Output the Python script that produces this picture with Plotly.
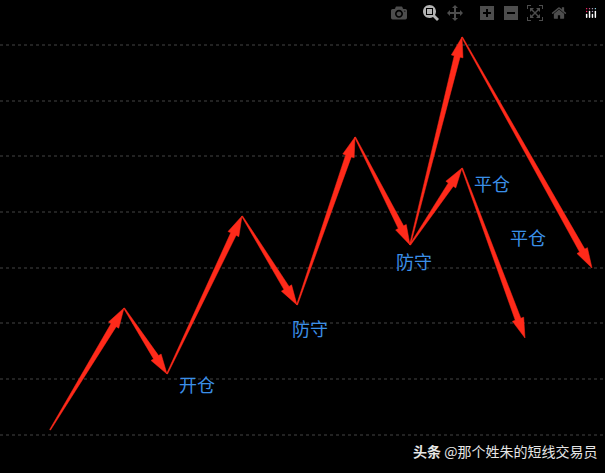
import numpy as np
import plotly.graph_objects as go

# path vertices (chart coordinates = pixel-like units)
main_x = [50, 124, 167, 242, 297, 355, 410]
main_y = [430, 308, 374, 216, 305, 137, 245]
branch1_x = [410, 462, 592]
branch1_y = [245, 37, 268]
branch2_x = [410, 462, 525]
branch2_y = [245, 168, 338]
grid_y = [45, 101, 156, 212, 268, 323, 379, 435]
labels = ["开仓", "防守", "防守", "平仓", "平仓"]
label_x = [197, 310, 414, 492, 528]
label_y = [384, 328, 261, 183, 237]

fig = go.Figure()

def wedge(x0, y0, x1, y1):
    p0 = np.array([x0, y0], float); p1 = np.array([x1, y1], float)
    d = p1 - p0; L = np.linalg.norm(d); u = d / L; n = np.array([-u[1], u[0]])
    h = 20.0; w = 6.0; hw = 12.0
    b = p1 - u * h
    pts = [p0 + n * 0.5, b + n * w / 2, b + n * hw / 2, p1, b - n * hw / 2, b - n * w / 2, p0 - n * 0.5]
    xs = [p[0] for p in pts]; ys = [p[1] for p in pts]
    fig.add_trace(go.Scatter(x=xs, y=ys, fill="toself", fillcolor="#ff2a1a",
                             line=dict(color="#ff2a1a", width=0.5), mode="lines",
                             hoverinfo="skip", showlegend=False))

for xs, ys in [(main_x, main_y), (branch1_x, branch1_y), (branch2_x, branch2_y)]:
    for i in range(len(xs) - 1):
        wedge(xs[i], ys[i], xs[i + 1], ys[i + 1])

for t, x, y in zip(labels, label_x, label_y):
    fig.add_annotation(x=x, y=y, text=t, showarrow=False,
                       font=dict(family="Noto Sans CJK SC", size=18, color="#3b8fe8"))

fig.add_annotation(x=505, y=451, text="<b>头条</b> @那个姓朱的短线交易员", showarrow=False,
                   font=dict(family="Noto Sans CJK SC", size=14, color="#e6e6e6"))

fig.update_layout(
    width=605, height=473, margin=dict(l=0, r=0, t=0, b=0),
    paper_bgcolor="black", plot_bgcolor="black",
    xaxis=dict(range=[0, 605], visible=False),
    yaxis=dict(range=[473, 0], showgrid=False, zeroline=False, showticklabels=False,
               tickvals=grid_y),
)
for g in grid_y:
    fig.add_hline(y=g, line=dict(color="#444444", width=1, dash="dot"), layer="below")

fig.write_html("out.html",
               post_script="document.body.style.margin='0';document.body.style.overflow='hidden';document.body.style.background='black';")
